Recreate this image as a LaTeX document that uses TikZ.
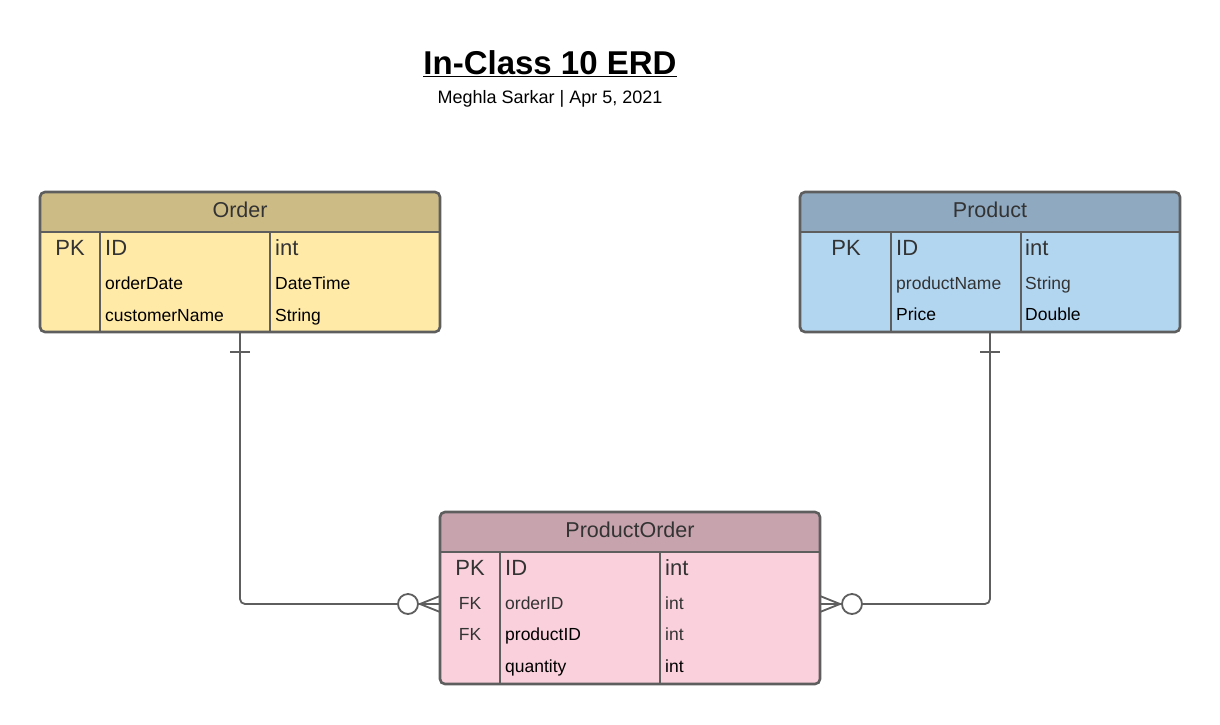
\documentclass[tikz,border=0pt]{standalone}
\usepackage{fontspec}
\setmainfont{Liberation Sans}
\definecolor{bordc}{HTML}{5E5E5E}
\definecolor{ordH}{HTML}{CDBB86}
\definecolor{ordB}{HTML}{FFEAA8}
\definecolor{proH}{HTML}{8FA9C0}
\definecolor{proB}{HTML}{B2D6F0}
\definecolor{poH}{HTML}{C7A3AD}
\definecolor{poB}{HTML}{F9D0DC}
\definecolor{txtc}{HTML}{333333}
\tikzset{
  entbox/.style={draw=bordc, line width=2.6pt, rounded corners=5pt, inner sep=0pt},
  hdrtxt/.style={font=\fontsize{21.5}{24}\selectfont, text=txtc, anchor=base, inner sep=0pt},
  bigtxt/.style={font=\fontsize{22}{24}\selectfont, text=txtc, anchor=base west, inner sep=0pt},
  smtxt/.style={font=\fontsize{17.5}{20}\selectfont, text=black, anchor=base west, inner sep=0pt},
  smgrey/.style={font=\fontsize{17.5}{20}\selectfont, text=txtc, anchor=base west, inner sep=0pt},
  keytxt/.style={font=\fontsize{22}{24}\selectfont, text=txtc, anchor=base, inner sep=0pt},
  keysm/.style={font=\fontsize{17.5}{20}\selectfont, text=txtc, anchor=base, inner sep=0pt},
  divl/.style={draw=bordc, line width=2.6pt},
  conn/.style={draw=bordc, line width=1.8pt},
}
\newcommand{\entity}[8]{% name, x1, y1, x2, y2, headercolour, bodycolour, title
  \fill[#7, rounded corners=5pt] (#2,#3) rectangle (#4,#5);
  \begin{scope}
    \clip (#2,#3) rectangle (#4,#3+40);
    \fill[#6, rounded corners=5pt] (#2,#3) rectangle (#4,#5);
  \end{scope}
  \draw[divl] (#2,#3+40) -- (#4,#3+40);
  \node[entbox, minimum width={#4-#2}, minimum height={#5-#3}] (#1) at ({(#2+#4)/2},{(#3+#5)/2}) {};
  \node[hdrtxt] (#1-title) at ({(#2+#4)/2},#3+25) {#8};
}
\begin{document}
\begin{tikzpicture}[x=1pt,y=-1pt]
\useasboundingbox (0,0) rectangle (1220,724);
\fill[white] (0,0) rectangle (1220,724);

% Title
\node[font=\bfseries\fontsize{33}{36}\selectfont, inner sep=0pt] (title) at (550,64) {\underline{In-Class 10 ERD}};
\node[font=\fontsize{18}{20}\selectfont, inner sep=0pt] (subtitle) at (550,99) {Meghla Sarkar | Apr 5, 2021};

% Order entity
\entity{order}{40}{192}{440}{332}{ordH}{ordB}{Order}
\draw[divl] (100,232) -- (100,332);
\draw[divl] (270,232) -- (270,332);
\node[keytxt] (o-pk) at (70,255) {PK};
\node[bigtxt] (o-id) at (105,255) {ID};
\node[bigtxt] (o-idt) at (275,255) {int};
\node[smtxt] (o-d) at (105,289) {orderDate};
\node[smtxt] (o-dt) at (275,289) {DateTime};
\node[smtxt] (o-c) at (105,321) {customerName};
\node[smtxt] (o-ct) at (275,321) {String};

% Product entity
\entity{product}{800}{192}{1180}{332}{proH}{proB}{Product}
\draw[divl] (891,232) -- (891,332);
\draw[divl] (1021,232) -- (1021,332);
\node[keytxt] (p-pk) at (846,255) {PK};
\node[bigtxt] (p-id) at (896,255) {ID};
\node[bigtxt] (p-idt) at (1025,255) {int};
\node[smgrey] (p-n) at (896,289) {productName};
\node[smgrey] (p-nt) at (1025,289) {String};
\node[smtxt] (p-p) at (896,320) {Price};
\node[smtxt] (p-pt) at (1025,320) {Double};

% ProductOrder entity
\entity{po}{440}{512}{820}{684}{poH}{poB}{ProductOrder}
\draw[divl] (500,552) -- (500,684);
\draw[divl] (660,552) -- (660,684);
\node[keytxt] (po-pk) at (470,575) {PK};
\node[bigtxt] (po-id) at (505,575) {ID};
\node[bigtxt] (po-idt) at (665,575) {int};
\node[keysm] (po-fk1) at (470,609) {FK};
\node[smgrey] (po-o) at (505,609) {orderID};
\node[smgrey] (po-ot) at (665,609) {int};
\node[keysm] (po-fk2) at (470,640) {FK};
\node[smtxt] (po-p) at (505,640) {productID};
\node[smgrey] (po-pt) at (665,640) {int};
\node[smtxt] (po-q) at (505,672) {quantity};
\node[smtxt] (po-qt) at (665,672) {int};

% Connector Order -- ProductOrder
\coordinate (oL) at (240,332);
\coordinate (poL) at (440,604);
\draw[conn, rounded corners=5pt] (oL) -- (240,604) -- (398,604);
\draw[conn] (418,604) -- (poL);
\draw[conn] (230,352) -- (250,352);
\draw[conn] (408,604) circle (10);
\draw[conn] (420,604) -- (440,596);
\draw[conn] (420,604) -- (440,612);

% Connector Product -- ProductOrder
\coordinate (pR) at (990,332);
\coordinate (poR) at (820,604);
\draw[conn, rounded corners=5pt] (pR) -- (990,604) -- (862,604);
\draw[conn] (842,604) -- (poR);
\draw[conn] (980,352) -- (1000,352);
\draw[conn] (852,604) circle (10);
\draw[conn] (840,604) -- (820,596);
\draw[conn] (840,604) -- (820,612);
\end{tikzpicture}
\end{document}
